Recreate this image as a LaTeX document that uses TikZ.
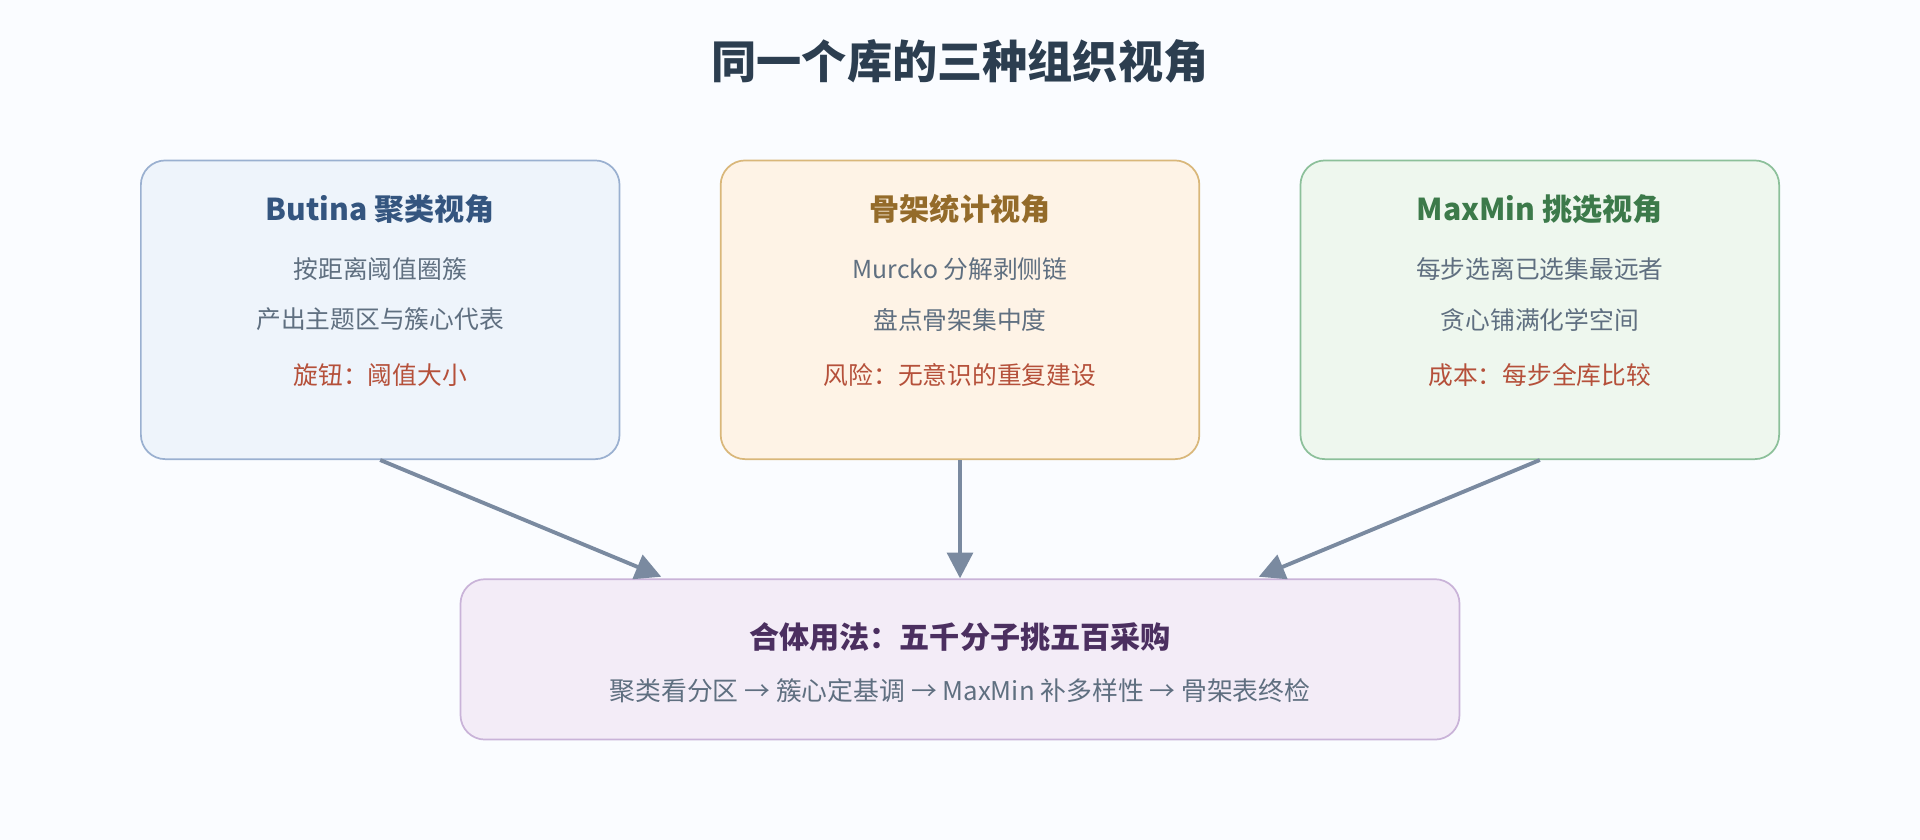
\documentclass[tikz,border=0pt]{standalone}
\usepackage{fontspec}
\setmainfont{Noto Sans CJK SC}
\usetikzlibrary{arrows.meta,positioning}
\definecolor{bgcol}{HTML}{FAFCFF}
\definecolor{titlecol}{HTML}{2C3E50}
\definecolor{bodycol}{HTML}{5F6F80}
\definecolor{riskcol}{HTML}{B5503A}
\definecolor{arrowcol}{HTML}{7A8AA0}
\definecolor{bluefill}{HTML}{EEF4FB}\definecolor{bluedraw}{HTML}{9AB0D0}\definecolor{bluetext}{HTML}{34557F}
\definecolor{orgfill}{HTML}{FEF3E6}\definecolor{orgdraw}{HTML}{D9B77A}\definecolor{orgtext}{HTML}{946B2A}
\definecolor{grnfill}{HTML}{EEF7EE}\definecolor{grndraw}{HTML}{8CC09A}\definecolor{grntext}{HTML}{3C7A4A}
\definecolor{vltfill}{HTML}{F3ECF7}\definecolor{vltdraw}{HTML}{C9B3D8}\definecolor{vlttext}{HTML}{4B2F60}
\tikzset{
  view/.style={draw,line width=0.8pt,rounded corners=0.4cm,minimum width=7.82cm,minimum height=4.88cm},
  head/.style={font=\fontsize{14}{16}\selectfont\bfseries},
  body/.style={font=\fontsize{11.5}{14}\selectfont,text=bodycol},
  link/.style={arrowcol,line width=1.8pt,-{Triangle[length=0.42cm,width=0.42cm]}}
}
\begin{document}
\begin{tikzpicture}[x=0.02cm,y=-0.02cm]
                \fill[bgcol] (0,0) rectangle (1568,686);
                \useasboundingbox (0,0) rectangle (1568,686);
                \node[font=\fontsize{21}{25}\selectfont\bfseries,text=titlecol] (title) at (784,50) {同一个库的三种组织视角};
                %% three views
                \node[view,draw=bluedraw,fill=bluefill] (butina) at (310.5,253) {};
                \node[view,draw=orgdraw,fill=orgfill] (scaf) at (784,253) {};
                \node[view,draw=grndraw,fill=grnfill] (maxmin) at (1257.5,253) {};
                \foreach \b/\x/\c/\h/\la/\lb/\lc in {
                  butina/310.5/bluetext/{Butina 聚类视角}/按距离阈值圈簇/产出主题区与簇心代表/旋钮：阈值大小,
                  scaf/784/orgtext/骨架统计视角/{Murcko 分解剥侧链}/盘点骨架集中度/风险：无意识的重复建设,
                  maxmin/1257.5/grntext/{MaxMin 挑选视角}/每步选离已选集最远者/贪心铺满化学空间/成本：每步全库比较} {
                  \node[head,text=\c] (\b-h) at (\x,171) {\h};
                  \node[body] (\b-a) at (\x,220) {\la};
                  \node[body] (\b-b) at (\x,261) {\lb};
                  \node[body,text=riskcol] (\b-c) at (\x,306) {\lc};
                }
                %% combined use
                \node[view,draw=vltdraw,fill=vltfill,minimum width=16.32cm,minimum height=2.62cm] (combo) at (784,538.5) {};
                \node[head,text=vlttext] (combo-h) at (784,520) {合体用法：五千分子挑五百采购};
                \node[body,font=\fontsize{12}{14}\selectfont] (combo-a) at (784,564) {聚类看分区 → 簇心定基调 → MaxMin 补多样性 → 骨架表终检};
                %% arrows
                \coordinate (t1) at (540,471);
                \coordinate (t3) at (1028,471);
                \draw[link] (butina.south) -- (t1);
                \draw[link] (scaf.south) -- (combo.north);
                \draw[link] (maxmin.south) -- (t3);
            \end{tikzpicture}
\end{document}
